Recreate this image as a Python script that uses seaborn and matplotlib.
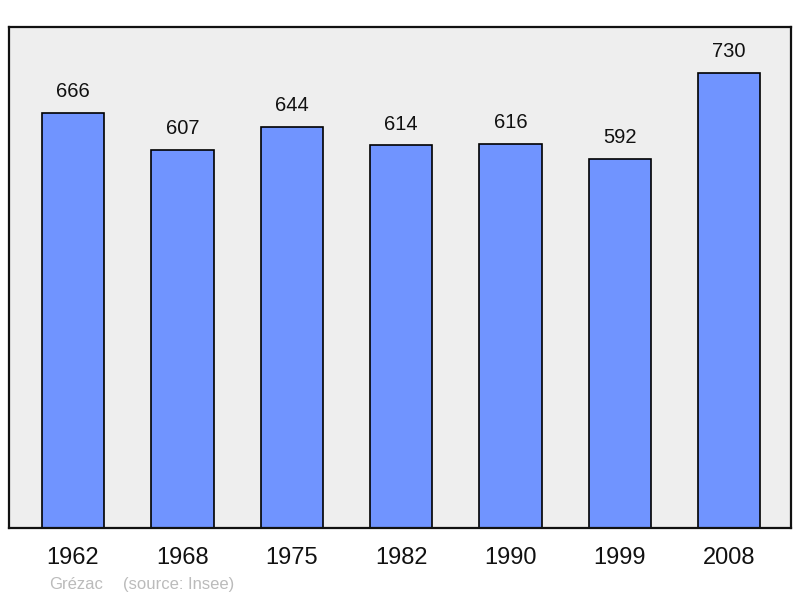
import matplotlib
matplotlib.use('Agg')
import matplotlib.pyplot as plt
import seaborn as sns
import pandas as pd

years = ['1962', '1968', '1975', '1982', '1990', '1999', '2008']
population = [666, 607, 644, 614, 616, 592, 730]
commune = 'Grézac'
source = '(source: Insee)'

sns.set_style('white')
plt.rcParams['font.family'] = ['Liberation Sans', 'DejaVu Sans']

df = pd.DataFrame({'year': years, 'pop': population})

fig = plt.figure(figsize=(8, 5.98), dpi=100)
ax = fig.add_axes([0.01125, 0.1171, 0.9775, 0.8378])
ax.set_facecolor('#eeeeee')

sns.barplot(data=df, x='year', y='pop', color='#7094ff', saturation=1,
            width=0.57, edgecolor='black', linewidth=1.2, ax=ax)

# value labels above each bar
for i, v in enumerate(population):
    ax.annotate(str(v), (i, v), xytext=(0, 8.5), textcoords='offset points',
                ha='center', va='bottom', fontsize=14.5, color='#111111')

ax.set_xlim(-0.585, 6.565)
ax.set_ylim(0, 804)
ax.set_yticks([])
ax.set_xlabel('')
ax.set_ylabel('')
ax.tick_params(axis='x', length=0, labelsize=17, pad=13.5, colors='#111111')
for s in ax.spines.values():
    s.set_visible(True)
    s.set_color('#111111')
    s.set_linewidth(1.6)

fig.text(49 / 800, 1 - 589 / 598, commune, fontsize=12, color='#bbbbbb', va='baseline')
fig.text(123 / 800, 1 - 589 / 598, source, fontsize=12, color='#bbbbbb', va='baseline')

fig.savefig('out.png', dpi=100)
